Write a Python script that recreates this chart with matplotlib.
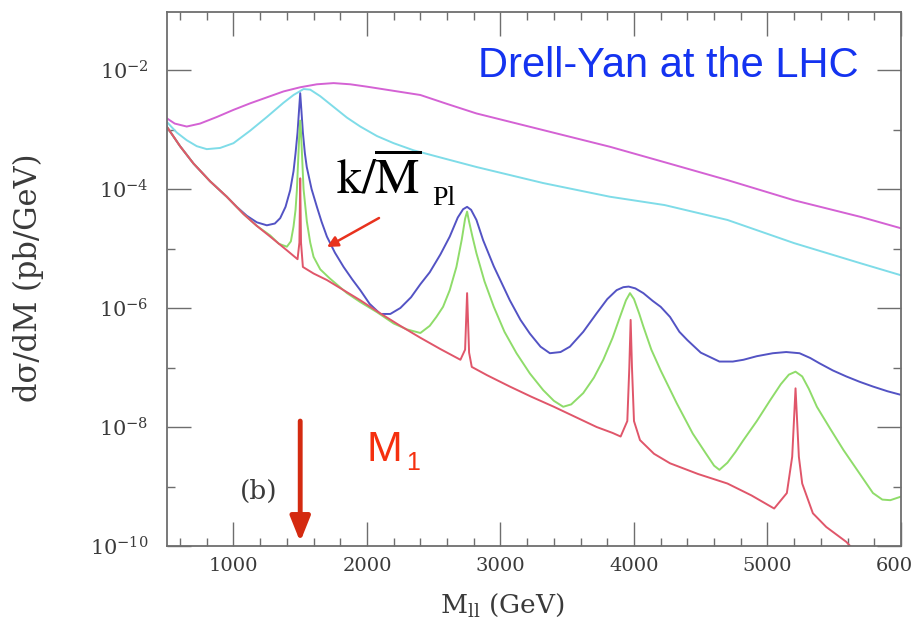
import numpy as np
import matplotlib
matplotlib.use("Agg")
import matplotlib.pyplot as plt
from matplotlib import ticker

# ---- dilepton invariant-mass spectra (M in GeV, log10 of dsigma/dM in pb/GeV) ----
magenta_m = [500, 560, 650, 750, 875, 1000, 1125, 1250, 1375, 1500, 1625, 1750, 1875,
             2000, 2200, 2400, 2600, 2820, 3320, 3820, 4230, 4700, 5200, 5700, 6000]
magenta_log = [-2.81, -2.90, -2.95, -2.90, -2.79, -2.67, -2.56, -2.46, -2.36, -2.29,
               -2.24, -2.22, -2.24, -2.28, -2.35, -2.42, -2.57, -2.73, -3.01, -3.29,
               -3.55, -3.85, -4.19, -4.47, -4.66]

cyan_m = [500, 575, 650, 725, 800, 900, 1000, 1125, 1250, 1375, 1450, 1525, 1575, 1650,
          1750, 1850, 1950, 2075, 2200, 2350, 2550, 2820, 3320, 3820, 4230, 4700, 5200,
          5700, 6000]
cyan_log = [-2.87, -3.05, -3.18, -3.28, -3.33, -3.31, -3.23, -3.02, -2.79, -2.55, -2.42,
            -2.32, -2.33, -2.44, -2.62, -2.80, -2.95, -3.11, -3.23, -3.35, -3.47, -3.63,
            -3.90, -4.13, -4.27, -4.52, -4.91, -5.25, -5.45]

blue_m = [500, 600, 700, 825, 950, 1025, 1100, 1175, 1250, 1310, 1350, 1390, 1425, 1450,
          1465, 1480, 1492, 1500, 1508, 1520, 1535, 1549, 1585, 1625, 1660, 1700, 1760,
          1825, 1890, 1950, 2020, 2100, 2175, 2250, 2330, 2400, 2470, 2550, 2620, 2680,
          2720, 2750, 2780, 2820, 2870, 2950, 3070, 3150, 3220, 3300, 3370, 3450, 3520,
          3620, 3720, 3800, 3870, 3920, 3960, 4010, 4070, 4140, 4200, 4270, 4340, 4400,
          4500, 4640, 4740, 4820, 4920, 5040, 5140, 5240, 5320, 5390, 5490, 5590, 5690,
          5790, 5900, 6000]
blue_log = [-2.95, -3.28, -3.57, -3.87, -4.13, -4.30, -4.45, -4.56, -4.61, -4.58, -4.49,
            -4.30, -4.02, -3.70, -3.40, -3.05, -2.65, -2.39, -2.65, -3.05, -3.40, -3.63,
            -4.00, -4.30, -4.55, -4.80, -5.07, -5.31, -5.52, -5.70, -5.93, -6.10, -6.10,
            -6.00, -5.82, -5.60, -5.40, -5.10, -4.80, -4.48, -4.34, -4.30, -4.35, -4.52,
            -4.86, -5.30, -5.87, -6.20, -6.43, -6.65, -6.76, -6.74, -6.65, -6.40, -6.09,
            -5.85, -5.70, -5.65, -5.64, -5.67, -5.75, -5.88, -5.98, -6.15, -6.40, -6.54,
            -6.75, -6.90, -6.90, -6.87, -6.81, -6.76, -6.74, -6.76, -6.84, -6.93, -7.05,
            -7.15, -7.24, -7.32, -7.40, -7.46]

green_m = [500, 600, 700, 825, 950, 1075, 1175, 1275, 1340, 1400, 1430, 1450, 1465, 1475,
           1487, 1495, 1500, 1505, 1513, 1525, 1550, 1575, 1600, 1650, 1720, 1850, 1950,
           2075, 2200, 2300, 2400, 2470, 2520, 2570, 2620, 2670, 2710, 2735, 2750, 2765,
           2790, 2820, 2880, 2950, 3030, 3120, 3220, 3320, 3400, 3470, 3530, 3620, 3700,
           3770, 3840, 3895, 3940, 3970, 4000, 4040, 4070, 4130, 4200, 4320, 4440, 4540,
           4600, 4640, 4700, 4760, 4820, 4920, 5020, 5100, 5160, 5210, 5260, 5310, 5370,
           5470, 5570, 5680, 5790, 5860, 5920, 6000]
green_log = [-2.95, -3.28, -3.57, -3.87, -4.13, -4.42, -4.62, -4.78, -4.92, -4.97, -4.88,
             -4.63, -4.35, -4.02, -3.40, -3.00, -2.85, -3.00, -3.40, -4.00, -4.55, -4.90,
             -5.14, -5.35, -5.50, -5.75, -5.90, -6.07, -6.26, -6.36, -6.42, -6.30, -6.15,
             -5.98, -5.70, -5.31, -4.85, -4.50, -4.38, -4.55, -4.80, -5.08, -5.55, -5.98,
             -6.40, -6.76, -7.10, -7.38, -7.56, -7.66, -7.62, -7.43, -7.17, -6.87, -6.50,
             -6.15, -5.87, -5.75, -5.85, -6.10, -6.31, -6.70, -7.05, -7.60, -8.11, -8.45,
             -8.65, -8.72, -8.60, -8.42, -8.22, -7.90, -7.55, -7.28, -7.12, -7.07, -7.15,
             -7.36, -7.66, -8.03, -8.39, -8.75, -9.11, -9.22, -9.23, -9.17]

red_m = [500, 600, 700, 825, 950, 1075, 1175, 1275, 1400, 1480, 1494, 1500, 1506, 1520,
         1600, 1700, 1825, 1950, 2100, 2250, 2400, 2550, 2700, 2735, 2750, 2765, 2785,
         2900, 3070, 3230, 3400, 3560, 3720, 3840, 3900, 3950, 3965, 3975, 3985, 4000,
         4045, 4150, 4270, 4480, 4700, 4880, 5050, 5145, 5185, 5210, 5235, 5260, 5340,
         5440, 5590, 5640]
red_log = [-2.95, -3.28, -3.57, -3.87, -4.13, -4.42, -4.62, -4.80, -5.03, -5.18, -4.90,
           -3.82, -4.90, -5.31, -5.42, -5.53, -5.70, -5.87, -6.09, -6.30, -6.50, -6.69,
           -6.87, -6.70, -5.75, -6.75, -6.99, -7.13, -7.32, -7.49, -7.66, -7.83, -8.00,
           -8.10, -8.16, -7.90, -7.00, -6.20, -7.00, -7.90, -8.22, -8.45, -8.61, -8.79,
           -8.95, -9.15, -9.37, -9.11, -8.50, -7.35, -8.50, -8.95, -9.45, -9.68, -9.93,
           -10.05]

series = [
    (magenta_m, magenta_log, "#d462d4"),
    (cyan_m, cyan_log, "#7fdce8"),
    (blue_m, blue_log, "#5353c4"),
    (green_m, green_log, "#8fdc6a"),
    (red_m, red_log, "#e0566a"),
]

x_major = [1000, 2000, 3000, 4000, 5000, 6000]
y_major = [1e-10, 1e-8, 1e-6, 1e-4, 1e-2]
y_minor = [1e-9, 1e-7, 1e-5, 1e-3]
m1_mass = 1500

plt.rcParams["font.family"] = ["DejaVu Serif"]
plt.rcParams["mathtext.fontset"] = "dejavuserif"

W, H = 911, 620
fig = plt.figure(figsize=(W / 100, H / 100), dpi=100)
ax = fig.add_axes([166.7 / W, 74 / H, (901 - 166.7) / W, (546 - 12) / H])


def fpos(x, y):
    """figure-fraction position from pixel offsets measured from the top-left corner"""
    return x / W, 1 - y / H


for m, lg, c in series:
    ax.plot(m, 10 ** np.asarray(lg), color=c, lw=1.4, solid_joinstyle="round")

ax.set_yscale("log")
ax.set_xlim(500, 6000)
ax.set_ylim(1e-10, 10 ** -1.025)

ax.set_xticks(x_major)
ax.xaxis.set_minor_locator(ticker.MultipleLocator(200))
ax.set_yticks(y_major)
ax.set_yticks(y_minor, minor=True)
ax.yaxis.set_minor_formatter(ticker.NullFormatter())

frame = "#6e6e6e"
for s in ax.spines.values():
    s.set_color(frame)
    s.set_linewidth(1.3)
ax.tick_params(which="both", direction="in", top=True, right=True, color=frame,
               width=1.0, labelcolor="#3a3a3a")
ax.tick_params(which="major", length=17)
ax.tick_params(which="minor", length=6)
ax.tick_params(axis="x", labelsize=14, pad=8)
ax.tick_params(axis="y", labelsize=15, pad=13)

# axis titles
fig.text(*fpos(440, 613), r"M$_{\mathrm{ll}}$ (GeV)", fontsize=19, color="#3a3a3a",
         ha="left", va="baseline")
fig.text(*fpos(28, 278), "d\u03c3/dM (pb/GeV)", fontsize=22, color="#3a3a3a",
         rotation=90, ha="center", va="center")

# annotations
fig.text(*fpos(478, 77), "Drell-Yan at the LHC", fontsize=30,
         family="Liberation Sans", color="#1433f0", ha="left", va="baseline")
fig.text(*fpos(336, 193), r"$\mathrm{k}/\overline{\mathrm{M}}$", fontsize=36,
         math_fontfamily="stix", color="black", ha="left", va="baseline")
fig.text(*fpos(432, 205), "Pl", fontsize=20, family="Liberation Serif",
         color="black", ha="left", va="baseline")
ax.annotate("", xy=(327, H - 247), xytext=(379, H - 218),
            xycoords="figure pixels", textcoords="figure pixels",
            arrowprops=dict(arrowstyle="-|>", color="#e8321e", lw=1.8,
                            mutation_scale=16, shrinkA=0, shrinkB=0))

fig.text(*fpos(259, 491), "(b)", fontsize=19, color="#3a3a3a",
         ha="center", va="center")

ax.annotate("", xy=(m1_mass, 10 ** -9.93), xytext=(m1_mass, 10 ** -7.9),
            arrowprops=dict(arrowstyle="-|>,head_length=0.75,head_width=0.3",
                            color="#d42a10", lw=3.5, mutation_scale=20,
                            shrinkA=0, shrinkB=0))
fig.text(*fpos(366, 461), "M", fontsize=31, family="Liberation Sans",
         color="#f5300f", ha="left", va="baseline")
fig.text(*fpos(406, 470), "1", fontsize=18, family="Liberation Sans",
         color="#f5300f", ha="left", va="baseline")

fig.savefig("out.png", dpi=100)
